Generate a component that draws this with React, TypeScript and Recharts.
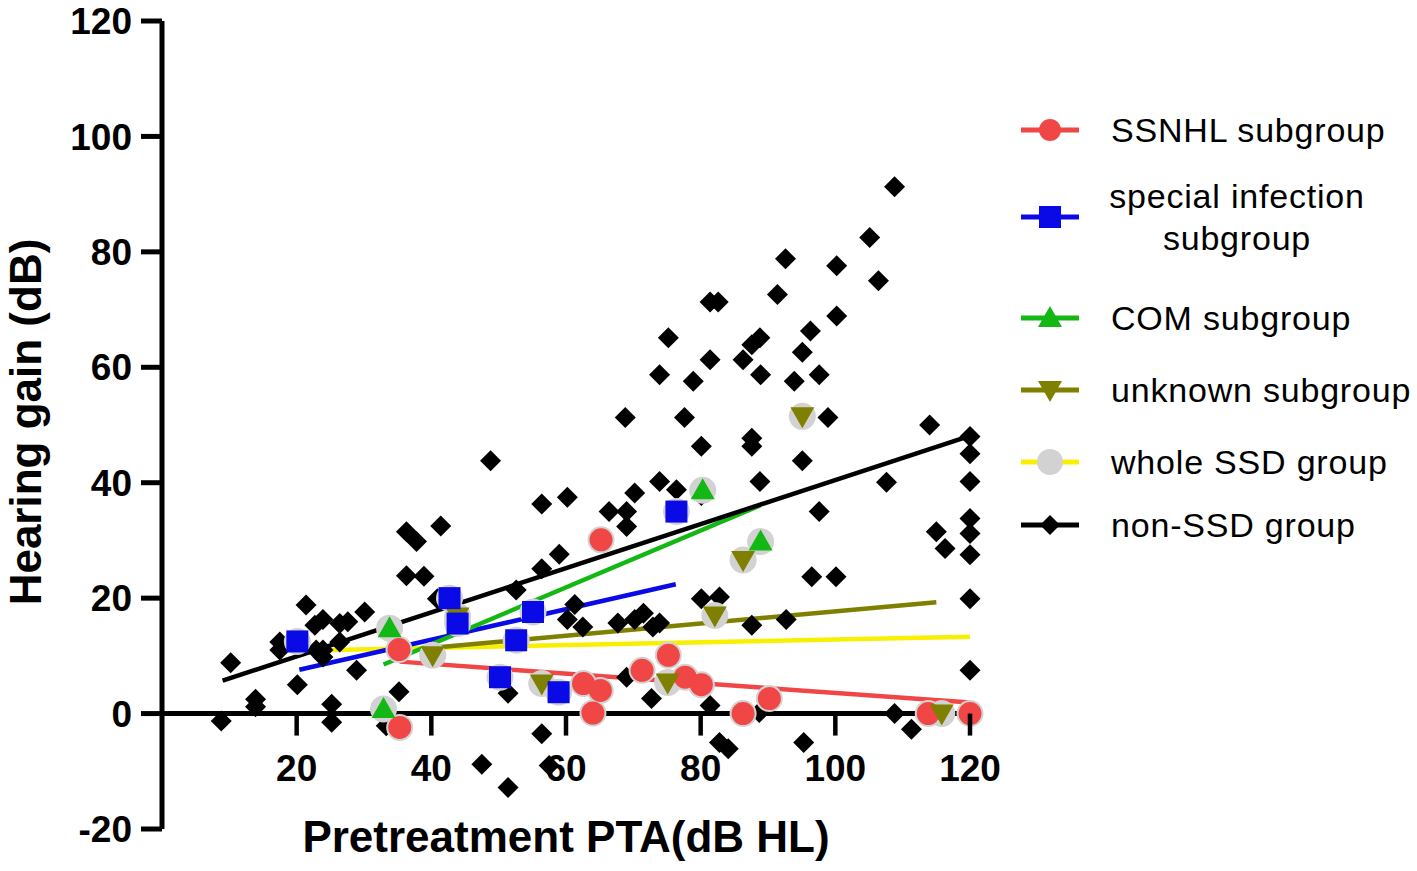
import React from "react";
import { ScatterChart, Scatter, XAxis, YAxis, ReferenceLine } from "recharts";

type Pt = { x: number; y: number };
const toPts = (rows: number[][]): Pt[] => rows.map(([x, y]) => ({ x, y }));

const FONT = '"Liberation Sans", Arial, Helvetica, sans-serif';
const W = 1417;
const H = 871;
const TOP = 21;
const BOTTOM = 42;
const LEFT = 162;
const RIGHT = 447;
const Y_MIN = -20;
const Y_MAX = 120;
// pixel row of y = 0, where the x axis crosses
const ZERO_Y = TOP + ((H - TOP - BOTTOM) * Y_MAX) / (Y_MAX - Y_MIN);

const RED = "#f04646";
const BLUE = "#0a0ae6";
const GREEN = "#14b814";
const OLIVE = "#7f7f00";
const YELLOW = "#f8f000";
const GRAY = "#d2d2d2";
const BLACK = "#000";

const xTicks = [20, 40, 60, 80, 100, 120];
const yTicks = [-20, 0, 20, 40, 60, 80, 100, 120];

const ssnhl = toPts([
    [35.2, 11.1], [35.3, -2.4], [65.2, 30.1], [75.2, 10.1], [71.3, 7.5],
    [77.7, 6.3], [80.1, 5.0], [62.6, 5.2], [65.1, 4.0], [64.0, 0.1],
    [86.3, 0.0], [90.2, 2.6], [113.8, 0.0], [120, 0.0],
]);

const special = toPts([
    [20.1, 12.5], [42.7, 20.0], [43.9, 15.6], [50.2, 6.3],
    [55.1, 17.6], [52.6, 12.7], [58.9, 3.7], [76.4, 35.0],
]);

const com = toPts([
    [33.8, 14.8], [32.9, 0.8], [80.3, 38.7], [88.9, 29.8],
]);

const unknown = toPts([
    [40.2, 10.1], [43.9, 16.8], [56.4, 5.2], [75.1, 5.4], [82.1, 17.0],
    [86.3, 26.6], [95.1, 51.5], [115.8, 0.0],
]);

const nonSsd = toPts([
    [8.8, -1.3], [10.2, 8.8], [13.9, 2.5], [13.9, 1.2], [17.5, 12.4],
    [17.5, 11.0], [20.1, 5.0], [21.4, 18.8], [22.7, 15.3], [23.9, 16.3],
    [22.9, 11.0], [23.9, 11.0], [23.9, 9.8], [25.2, 1.6], [25.2, -1.5],
    [26.4, 15.6], [27.6, 15.9], [26.4, 12.4], [28.9, 7.5], [30.1, 17.6],
    [33.3, -2.1], [35.2, 3.8], [36.3, 31.5], [37.8, 29.8], [41.4, 32.5],
    [36.3, 23.9], [38.9, 23.8], [40.9, 19.9], [47.5, -8.8], [51.4, -12.8],
    [57.5, -9.0], [48.8, 43.8], [51.4, 3.5], [52.6, 21.4], [56.4, 25.1],
    [59.0, 27.6], [56.4, 36.3], [60.2, 37.5], [56.4, -3.5], [61.3, 18.9],
    [60.2, 16.3], [62.5, 15.0], [66.4, 35.0], [69.0, 35.0], [69.0, 32.4],
    [70.2, 38.2], [73.9, 40.2], [76.4, 38.8], [80.1, 37.8], [67.7, 15.7],
    [70.2, 16.3], [71.5, 17.4], [72.9, 15.0], [73.9, 15.7], [69.0, 6.3],
    [72.7, 2.6], [68.8, 51.3], [77.6, 51.3], [80.1, 46.3], [87.6, 47.7],
    [87.6, 46.3], [88.8, 40.2], [95.1, 43.8], [97.6, 35.0], [80.1, 19.9],
    [82.8, 20.2], [87.6, 15.3], [92.7, 16.3], [96.5, 23.7], [100.1, 23.7],
    [81.4, 1.4], [88.7, 0.2], [82.8, -5.0], [84.1, -6.1], [95.3, -5.0],
    [108.8, 91.3], [105.1, 82.5], [106.4, 75.0], [92.6, 78.8], [100.2, 77.6],
    [91.4, 72.6], [81.4, 71.3], [82.6, 71.3], [100.2, 68.9], [75.2, 65.1],
    [96.3, 66.3], [88.8, 65.1], [87.6, 63.9], [86.3, 61.3], [95.1, 62.6],
    [81.4, 61.3], [73.9, 58.7], [78.9, 57.6], [88.9, 58.7], [93.9, 57.6],
    [97.6, 58.7], [98.9, 51.3], [114.0, 50.0], [120, 48.0], [120, 45.0],
    [120, 40.2], [107.6, 40.1], [115.0, 31.5], [116.3, 28.6], [120, 33.8],
    [120, 31.2], [120, 27.5], [120, 19.9], [120, 7.5], [108.8, 0.0],
    [111.3, -2.7],
]);

// every subgroup point is also a member of the whole SSD group
const wholeSsd = [...ssnhl, ...special, ...com, ...unknown];

// end points of the linear fits
const fitNonSsd = toPts([[9.0, 5.7], [120, 48.1]]);
const fitSpecial = toPts([[20.4, 7.6], [76.3, 22.4]]);
const fitCom = toPts([[32.9, 8.5], [88.9, 36.1]]);
const fitUnknown = toPts([[40.2, 11.4], [115.0, 19.3]]);
const fitWhole = toPts([[20.1, 10.9], [120, 13.3]]);
const fitSsnhl = toPts([[35.3, 9.0], [120, 1.9]]);

const LINE_W = 4.5;

const circle = (r: number, fill: string) => (p: any) =>
    <circle cx={p.cx} cy={p.cy} r={r} fill={fill} />;
const square = (s: number, fill: string) => (p: any) =>
    <rect x={p.cx - s / 2} y={p.cy - s / 2} width={s} height={s} fill={fill} />;
const triUp = (fill: string) => (p: any) =>
    <polygon points={`${p.cx},${p.cy - 12} ${p.cx + 12},${p.cy + 9} ${p.cx - 12},${p.cy + 9}`} fill={fill} />;
const triDown = (fill: string) => (p: any) =>
    <polygon points={`${p.cx},${p.cy + 12} ${p.cx + 12},${p.cy - 9} ${p.cx - 12},${p.cy - 9}`} fill={fill} />;
const diamond = (r: number, fill: string) => (p: any) =>
    <polygon points={`${p.cx},${p.cy - r} ${p.cx + r},${p.cy} ${p.cx},${p.cy + r} ${p.cx - r},${p.cy}`} fill={fill} />;
const none = () => <g />;

const XTick = ({ x, payload }: any) => (
    <g>
        <line x1={x} x2={x} y1={ZERO_Y} y2={ZERO_Y + 22} stroke={BLACK} strokeWidth={LINE_W} />
        <text x={x} y={ZERO_Y + 67} textAnchor="middle" fontFamily={FONT} fontSize={37} fontWeight="bold" fill={BLACK}>
            {payload.value}
        </text>
    </g>
);

const legendItems = [
    { label: ["SSNHL subgroup"], color: RED, mark: circle(11, RED), y: 130 },
    { label: ["special infection", "subgroup"], color: BLUE, mark: square(22, BLUE), y: 217 },
    { label: ["COM subgroup"], color: GREEN, mark: triUp(GREEN), y: 318 },
    { label: ["unknown subgroup"], color: OLIVE, mark: triDown(OLIVE), y: 390 },
    { label: ["whole SSD group"], color: YELLOW, mark: circle(13, GRAY), y: 462 },
    { label: ["non-SSD group"], color: BLACK, mark: diamond(10, BLACK), y: 525 },
];

function Overlay() {
    return (
        <svg width={W} height={H} style={{ position: "absolute", left: 0, top: 0, pointerEvents: "none" }}>
            <text
                x={41}
                y={422}
                transform="rotate(-90, 41, 422)"
                textAnchor="middle"
                fontFamily={FONT}
                fontSize={44}
                fontWeight="bold"
                fill={BLACK}
            >
                Hearing gain (dB)
            </text>
            <text x={566} y={852} textAnchor="middle" fontFamily={FONT} fontSize={44} fontWeight="bold" fill={BLACK}>
                Pretreatment PTA(dB HL)
            </text>
            {legendItems.map((it) => (
                <g key={it.label.join(" ")}>
                    <line x1={1021} x2={1079} y1={it.y} y2={it.y} stroke={it.color} strokeWidth={5} />
                    {it.mark({ cx: 1050, cy: it.y })}
                    {it.label.length === 1 ? (
                        <text x={1111} y={it.y + 12} fontFamily={FONT} fontSize={34} letterSpacing={0.8} fill={BLACK}>
                            {it.label[0]}
                        </text>
                    ) : (
                        <>
                            <text x={1237} y={208} textAnchor="middle" fontFamily={FONT} fontSize={34} letterSpacing={0.8} fill={BLACK}>
                                {it.label[0]}
                            </text>
                            <text x={1237} y={250} textAnchor="middle" fontFamily={FONT} fontSize={34} letterSpacing={0.8} fill={BLACK}>
                                {it.label[1]}
                            </text>
                        </>
                    )}
                </g>
            ))}
        </svg>
    );
}

export default function App() {
    return (
        <div style={{ position: "absolute", left: 0, top: 0, width: W, height: H, background: "#fff" }}>
            <ScatterChart width={W} height={H} margin={{ top: TOP, right: RIGHT, bottom: 0, left: 0 }}>
                <XAxis
                    type="number"
                    dataKey="x"
                    domain={[0, 120]}
                    ticks={xTicks}
                    interval={0}
                    axisLine={false}
                    tickLine={false}
                    height={BOTTOM}
                    tick={(p: any) => <XTick {...p} />}
                />
                <YAxis
                    type="number"
                    dataKey="y"
                    domain={[Y_MIN, Y_MAX]}
                    ticks={yTicks}
                    interval={0}
                    width={LEFT}
                    axisLine={{ stroke: BLACK, strokeWidth: 5 }}
                    tickLine={{ stroke: BLACK, strokeWidth: 5 }}
                    tickSize={21}
                    tickMargin={9}
                    tick={{ fill: BLACK, fontSize: 37, fontWeight: "bold", fontFamily: FONT }}
                />
                <ReferenceLine y={0} stroke={BLACK} strokeWidth={5} />

                <Scatter data={fitWhole} fill={YELLOW} line={{ stroke: YELLOW, strokeWidth: LINE_W }} shape={none} isAnimationActive={false} />
                <Scatter data={fitSsnhl} fill={RED} line={{ stroke: RED, strokeWidth: LINE_W }} shape={none} isAnimationActive={false} />
                <Scatter data={fitUnknown} fill={OLIVE} line={{ stroke: OLIVE, strokeWidth: LINE_W }} shape={none} isAnimationActive={false} />
                <Scatter data={fitSpecial} fill={BLUE} line={{ stroke: BLUE, strokeWidth: LINE_W }} shape={none} isAnimationActive={false} />
                <Scatter data={fitCom} fill={GREEN} line={{ stroke: GREEN, strokeWidth: LINE_W }} shape={none} isAnimationActive={false} />
                <Scatter data={fitNonSsd} fill={BLACK} line={{ stroke: BLACK, strokeWidth: LINE_W }} shape={none} isAnimationActive={false} />

                <Scatter data={nonSsd} shape={diamond(10.5, BLACK)} isAnimationActive={false} />
                <Scatter data={wholeSsd} shape={circle(13.5, GRAY)} isAnimationActive={false} />
                <Scatter data={ssnhl} shape={circle(11.5, RED)} isAnimationActive={false} />
                <Scatter data={unknown} shape={triDown(OLIVE)} isAnimationActive={false} />
                <Scatter data={com} shape={triUp(GREEN)} isAnimationActive={false} />
                <Scatter data={special} shape={square(22, BLUE)} isAnimationActive={false} />
            </ScatterChart>
            <Overlay />
        </div>
    );
}
